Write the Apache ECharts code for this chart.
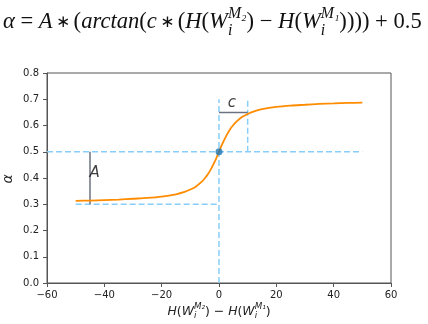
<!DOCTYPE html>
<html><head><meta charset="utf-8">
<script src="https://cdn.jsdelivr.net/npm/echarts@6/dist/echarts.min.js"></script>
<style>html,body{margin:0;padding:0;background:#fff}#c{width:428px;height:324px}</style>
</head><body><div id="c"></div>
<script>
// ---- data ----
const curveX = [-50,-45,-40,-35,-30,-25,-20,-15,-12,-10,-8,-6,-5,-4,-3,-2,-1,0,1,2,3,4,5,6,8,10,12,15,20,25,30,35,40,45,50];
const curveY = [0.313,0.314,0.316,0.318,0.321,0.324,0.329,0.338,0.347,0.356,0.368,0.386,0.398,0.412,0.430,0.451,0.474,0.5,0.526,0.549,0.570,0.588,0.602,0.614,0.632,0.644,0.653,0.662,0.671,0.676,0.679,0.682,0.684,0.686,0.687];
const centerPoint = [0, 0.5];
// dashed guide segments [x1,y1,x2,y2]
const guideSegments = [[-60,0.5,50,0.5],[-50,0.3,0,0.3],[0,0,0,0.7],[10,0.5,10,0.7]];
// grey bracket segments
const bracketSegments = [[0,0.65,10,0.65],[-45,0.3,-45,0.5]];
const annotationTexts = ['A','c'];
const annotationX = [-43.4, 4.5];
const annotationY = [0.42, 0.685];
const xTicks = [-60,-40,-20,0,20,40,60];
const yTicks = [0.0,0.1,0.2,0.3,0.4,0.5,0.6,0.7,0.8];

const chart = echarts.init(document.getElementById('c'), null, {renderer:'canvas'});

function layoutFormula(parts, family, targetWidth, anchorX, baseline, mode, color, baseSize) {
  const ctx = document.createElement('canvas').getContext('2d');
  function fam(p){ return p.f || family; }
  function fnt(p, S){ return (p.it?'italic ':'') + (S*(p.s||1)) + 'px "' + fam(p) + '"'; }
  function measure(S){
    let items=[], x=0;
    for (const p of parts){
      if (p.stack){ let mw=0; for (const q of p.stack){ ctx.font=fnt(q,S); items.push({p:q,x:x}); mw=Math.max(mw, ctx.measureText(q.t).width);} x+=mw; }
      else { ctx.font=fnt(p,S); items.push({p:p,x:x}); x+=ctx.measureText(p.t).width; }
    }
    return {items, total:x};
  }
  let S = baseSize;
  let m = measure(S);
  if (targetWidth) { S = S*targetWidth/m.total; m = measure(S); }
  const start = mode==='center' ? anchorX - m.total/2 : anchorX;
  return m.items.map(it => ({
    type:'text', silent:true, z:100,
    x: start + it.x,
    y: baseline + (it.p.dy||0)*S - 0.3*S*(it.p.s||1),
    style:{text:it.p.t, fontFamily:fam(it.p), fontSize:S*(it.p.s||1), fontStyle: it.p.it?'italic':'normal', fill:color, align:'left', verticalAlign:'middle'}
  }));
}

const AST = {t:'\u2009∗\u2009', f:'DejaVu Sans', s:0.75, dy:-0.05};
const titleParts = [
  {t:'α',it:1},{t:' = '},{t:'A',it:1},AST,{t:'('},{t:'arctan',it:1},{t:'('},{t:'c',it:1},AST,{t:'('},
  {t:'H',it:1},{t:'('},{t:'W',it:1},{stack:[{t:'M₂',it:1,s:0.7,dy:-0.45},{t:'i',it:1,s:0.7,dy:0.3}]},{t:')'},
  {t:' − '},{t:'H',it:1},{t:'('},{t:'W',it:1},{stack:[{t:'M₁',it:1,s:0.7,dy:-0.45},{t:'i',it:1,s:0.7,dy:0.3}]},
  {t:'))))'},{t:' + 0.5'}
];
const xNameParts = [
  {t:'H',it:1},{t:'('},{t:'W',it:1},{stack:[{t:'M₂',it:1,s:0.7,dy:-0.45},{t:'i',it:1,s:0.7,dy:0.3}]},{t:')'},
  {t:' − '},{t:'H',it:1},{t:'('},{t:'W',it:1},{stack:[{t:'M₁',it:1,s:0.7,dy:-0.45},{t:'i',it:1,s:0.7,dy:0.3}]},{t:')'}
];

const graphics = []
  .concat(layoutFormula(titleParts, 'Liberation Serif', 419, 3, 29, 'left', '#111', 20))
  .concat(layoutFormula(xNameParts, 'DejaVu Sans', 103, 219, 315, 'center', '#222', 12));
graphics.push({type:'text', x:8, y:179, rotation:Math.PI/2, silent:true,
  style:{text:'α', fontFamily:'DejaVu Sans', fontStyle:'italic', fontSize:14, fill:'#222', align:'center', verticalAlign:'middle'}});

const segSeries = (segs, color, type, width, z) => segs.map(s => ({
  type:'line', data:[[s[0],s[1]],[s[2],s[3]]], symbol:'none', silent:true, z:z, animation:false,
  lineStyle:{color:color, width:width, type:type}
}));

const series = []
  .concat(segSeries(guideSegments, '#87cefa', [6,3], 1.5, 2))
  .concat(segSeries(bracketSegments, '#6b7380', 'solid', 1.5, 3))
  .concat([{
    type:'line', data: curveX.map((x,i)=>[x,curveY[i]]), smooth:0.3, symbol:'none', z:4, animation:false,
    lineStyle:{color:'#ff8c00', width:1.8}
  },{
    type:'scatter', data:[centerPoint], symbolSize:7, z:5, animation:false,
    itemStyle:{color:'#1f77b4'}
  },{
    type:'scatter', data: annotationTexts.map((t,i)=>({value:[annotationX[i],annotationY[i]], name:t})),
    symbolSize:0, z:6, animation:false,
    label:{show:true, position:'inside', formatter:p=>p.name, fontFamily:'DejaVu Sans', fontStyle:'italic', fontSize:15, color:'#111'}
  }]);

chart.setOption({
  backgroundColor:'#fff',
  animation:false,
  grid:{left:47, right:37, top:73, bottom:41, show:true, borderColor:'#555', borderWidth:1},
  xAxis:{type:'value', min:-60, max:60, interval:20,
    axisLine:{show:true, onZero:false, lineStyle:{color:'#555'}},
    axisTick:{show:true, inside:false, length:4, lineStyle:{color:'#555'}},
    splitLine:{show:false},
    axisLabel:{color:'#222', fontFamily:'DejaVu Sans', fontSize:10, margin:7, formatter:v=> xTicks.includes(v) ? (v<0?'−'+Math.abs(v):String(v)) : ''}},
  yAxis:{type:'value', min:0, max:0.8, interval:0.1,
    axisLine:{show:true, onZero:false, lineStyle:{color:'#555'}},
    axisTick:{show:true, inside:false, length:4, lineStyle:{color:'#555'}},
    splitLine:{show:false},
    axisLabel:{color:'#222', fontFamily:'DejaVu Sans', fontSize:10, margin:8, formatter:v=>{const t=yTicks.find(k=>Math.abs(k-v)<1e-9); return t===undefined?'':t.toFixed(1);}}},
  graphic: graphics,
  series: series
});
</script></body></html>
